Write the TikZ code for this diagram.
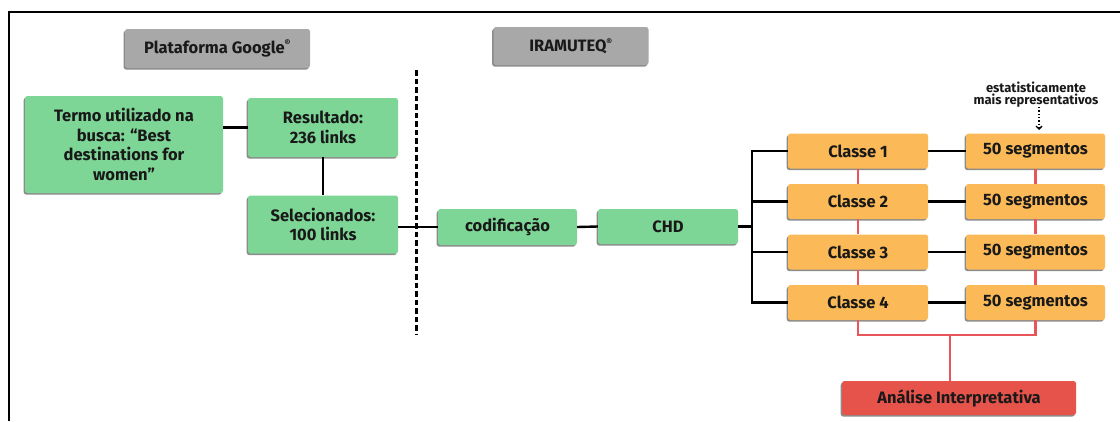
\documentclass[tikz,border=0pt]{standalone}
\usepackage{fontspec}
\setmainfont{Fira Sans}
\usetikzlibrary{shadows,arrows.meta,calc}
\definecolor{boxgreen}{HTML}{7DD596}
\definecolor{boxorange}{HTML}{FBBA57}
\definecolor{boxred}{HTML}{E5534B}
\definecolor{boxgray}{HTML}{A8A8A8}
\definecolor{linered}{HTML}{E8555A}
\begin{document}
\begin{tikzpicture}[x=1pt,y=-1pt,
  base/.style={draw=none, rounded corners=2.5pt, align=center, inner sep=0pt,
     font=\fontsize{16.5}{19.5}\selectfont\bfseries, text=black!90,
     drop shadow={shadow xshift=-1.3pt, shadow yshift=-1.6pt, opacity=1, fill=black!45}},
  gbox/.style={base, fill=boxgreen},
  obox/.style={base, fill=boxorange},
  rbox/.style={base, fill=boxred},
  graybox/.style={base, fill=boxgray},
  conn/.style={line width=2.4pt, black},
  rconn/.style={line width=2.4pt, linered},
]
\useasboundingbox (0,0) rectangle (1120,421);
% frame
\draw[line width=2pt] (9,421) -- (9,12) -- (1121,12);

% headers
\node[graybox, minimum width=185, minimum height=39] (google) at (217.5,48.5) {Plataforma Google\textsuperscript{\fontsize{9}{9}\selectfont ®}};
\node[graybox, minimum width=155, minimum height=38] (iramuteq) at (571,46) {IRAMUTEQ\textsuperscript{\fontsize{9}{9}\selectfont ®}};

% divider
\coordinate (dtop) at (416.5,70);
\coordinate (dbot) at (416.5,335);
\draw[line width=2.4pt, dash pattern=on 5.5pt off 3pt] (dtop) -- (dbot);

% green boxes
\node[gbox, minimum width=198, minimum height=97] (termo) at (124,144.5) {Termo utilizado na\\busca: “Best\\destinations for\\women”};
\node[gbox, minimum width=150, minimum height=59] (res) at (323,127.5) {Resultado:\\236 links};
\node[gbox, minimum width=150, minimum height=58] (sel) at (323,224.5) {Selecionados:\\100 links};
\node[gbox, minimum width=139, minimum height=36] (cod) at (507.5,227) {codificação};
\node[gbox, minimum width=140, minimum height=35] (chd) at (668,226.5) {CHD};

% classes and segments
\foreach \i/\y in {1/151,2/201.5,3/252,4/302.5}{
  \node[obox, minimum width=140, minimum height=35] (c\i) at (858,\y) {Classe \i};
  \node[obox, minimum width=139, minimum height=35] (s\i) at (1035.5,\y) {50 segmentos};
}
\node[rbox, minimum width=234, minimum height=34] (ana) at (959,398) {Análise Interpretativa};

% annotation
\node[align=center, font=\fontsize{13}{12.5}\selectfont\bfseries, text=black!90, inner sep=0pt] (note) at (1036,94.5) {estatisticamente\\mais representativos};
\coordinate (atip) at (1039,130);
\coordinate (atail) at (1039,107);
\draw[line width=1.3pt, dotted, -{Straight Barb[length=3pt,width=6pt]}] (atail) -- (atip);

% black connectors
\draw[conn] (res.west) -- (res.west -| termo.east);
\draw[conn] (res.south) -- (sel.north);
\draw[conn] (sel.east |- cod.west) -- (cod.west);
\draw[conn] (cod.east) -- (chd.west);
\coordinate (bus) at (752,226.5);
\draw[conn] (chd.east) -- (bus);
\draw[conn] (c1.west) -- (c1.west -| bus) -- (c4.west -| bus) -- (c4.west);
\draw[conn] (c2.west) -- (c2.west -| bus);
\draw[conn] (c3.west) -- (c3.west -| bus);
\foreach \i in {1,2,3,4}{
  \draw[conn] (c\i.east) -- (s\i.west);
}

% red connectors
\foreach \i/\j in {1/2,2/3,3/4}{
  \draw[rconn] (c\i.south) -- (c\j.north);
  \draw[rconn] (s\i.south) -- (s\j.north);
}
\coordinate (rj) at (950,335);
\draw[rconn] (c4.south) -- (c4.south |- rj) -- (s4.south |- rj) -- (s4.south);
\draw[rconn] (rj) -- (rj |- ana.north);
\end{tikzpicture}
\end{document}
